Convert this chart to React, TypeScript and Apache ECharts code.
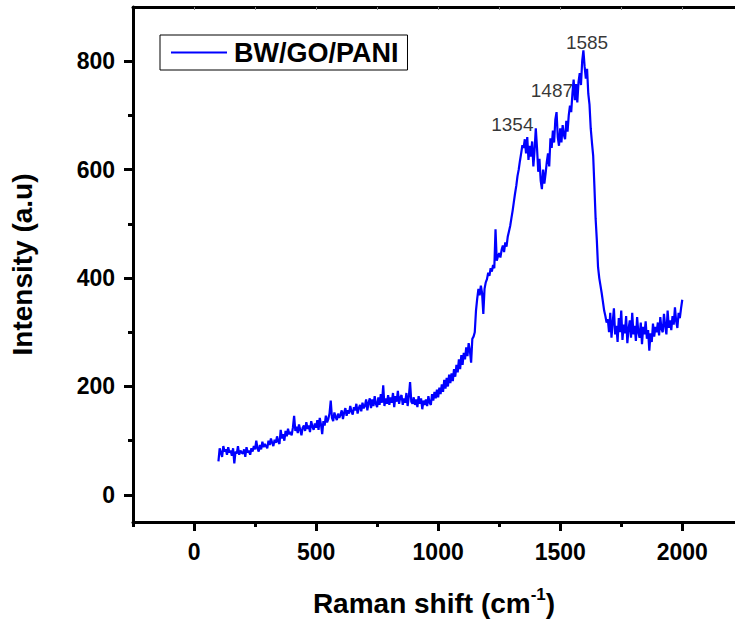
import React, { useEffect, useRef } from "react";
import * as echarts from "echarts";

const seriesName = "BW/GO/PANI";
const waveStart = 100;
const waveStep = 5;
// Intensity (a.u) every 5 cm-1 from 100 to 2000
const intensity = [
  62, 86, 78, 70, 90, 80, 84, 74, 88, 78,
  82, 72, 86, 58, 80, 76, 90, 74, 82, 78,
  76, 84, 70, 88, 78, 82, 74, 86, 80, 90,
  84, 100, 86, 80, 92, 84, 98, 88, 94, 90,
  86, 100, 92, 104, 96, 90, 102, 96, 108, 98,
  94, 120, 104, 112, 100, 118, 108, 122, 112, 116,
  110, 124, 146, 118, 126, 114, 130, 120, 110, 124,
  128, 118, 134, 122, 128, 116, 136, 126, 120, 132,
  124, 138, 120, 142, 130, 112, 136, 128, 146, 134,
  140, 150, 174, 142, 136, 152, 144, 138, 150, 142,
  148, 156, 140, 152, 160, 146, 156, 150, 164, 154,
  148, 162, 156, 168, 150, 160, 166, 154, 170, 160,
  164, 176, 156, 170, 178, 160, 176, 164, 182, 168,
  162, 180, 166, 186, 170, 202, 164, 178, 168, 184,
  166, 180, 170, 188, 162, 182, 172, 192, 168, 180,
  184, 166, 178, 170, 188, 164, 182, 208, 172, 168,
  180, 166, 176, 162, 182, 168, 178, 158, 174, 166,
  176, 164, 182, 170, 166, 186, 174, 190, 178, 194,
  180, 198, 186, 204, 190, 212, 196, 216, 200, 222,
  206, 224, 210, 232, 218, 240, 226, 250, 232, 258,
  240, 262, 250, 272, 256, 280, 266, 244, 288, 292,
  300, 340, 362, 380, 368, 386, 372, 334, 380, 392,
  398, 410, 404, 418, 412, 424, 418, 490, 432, 440,
  446, 438, 452, 460, 448, 466, 458, 476, 486, 496,
  510, 524, 540, 556, 570, 588, 600, 616, 630, 645,
  640, 656, 630, 660, 618, 644, 624, 652, 606, 636,
  676, 640, 596, 620, 580, 564, 600, 574, 592, 614,
  630, 606, 658, 640, 672, 650, 692, 706, 660, 644,
  676, 650, 682, 664, 656, 690, 670, 700, 718, 706,
  740, 766, 728, 758, 724, 762, 778, 756, 800, 820,
  790, 768, 786, 740, 720, 676, 650, 626, 570, 510,
  470, 420, 400, 386, 372, 356, 340, 330, 318, 324,
  300, 336, 290, 318, 344, 296, 312, 282, 326, 300,
  340, 286, 314, 298, 330, 280, 306, 322, 290, 336,
  296, 312, 284, 328, 300, 290, 318, 278, 310, 296,
  320, 288, 304, 266, 298, 282, 316, 292, 310, 300,
  318, 294, 328, 306, 300, 334, 312, 296, 340, 308,
  322, 304, 330, 314, 346, 320, 308, 336, 326, 344,
  360,
];

const peakTexts = ["1354", "1487", "1585"];
const peakTextX = [1304, 1466, 1610];
const peakTextY = [683, 746, 835];

const xMajorTicks = [0, 500, 1000, 1500, 2000];
const xMinorTicks = [-250, 250, 750, 1250, 1750];
const xTopTicks = [0, 250, 500, 750, 1000, 1250, 1500, 1750, 2000];
const yMajorTicks = [0, 200, 400, 600, 800];
const yMinorTicks = [100, 300, 500, 700];

const X_MIN = -250;
const X_MAX = 2216;
const Y_MIN = -50;
const Y_MAX = 900;

const FONT = "'Liberation Sans', Arial, Helvetica, sans-serif";

export default function App() {
  const ref = useRef<HTMLDivElement>(null);

  useEffect(() => {
    if (!ref.current) return;
    const chart = echarts.init(ref.current, undefined, { renderer: "svg" });

    const lineData = intensity.map((v, i) => [waveStart + i * waveStep, v]);
    const peakData = peakTexts.map((t, i) => ({ value: [peakTextX[i], peakTextY[i]], name: t }));

    const baseX = { type: "value", min: X_MIN, max: X_MAX, splitLine: { show: false } } as any;
    const baseY = { type: "value", min: Y_MIN, max: Y_MAX, splitLine: { show: false } } as any;
    const plain = (v: number) => String(v);

    chart.setOption({
      animation: false,
      backgroundColor: "#ffffff",
      grid: { left: 132, right: 0, top: 7, bottom: 98, containLabel: false },
      legend: {
        data: [{ name: seriesName, icon: "rect" }],
        left: 160,
        top: 35,
        orient: "horizontal",
        padding: [4, 9, 4, 11],
        itemWidth: 56,
        itemHeight: 2,
        borderColor: "#000",
        borderWidth: 1,
        borderRadius: 0,
        itemStyle: { color: "#0000ff" },
        textStyle: { fontFamily: FONT, fontWeight: "bold", fontSize: 27, color: "#000", padding: [0, 0, 0, 2] },
      },
      xAxis: [
        {
          ...baseX,
          position: "bottom",
          name: "{a|Raman shift (cm}{s|-1}{a|)}",
          nameLocation: "middle",
          nameGap: 64,
          nameTextStyle: {
            rich: {
              a: { fontFamily: FONT, fontWeight: "bold", fontSize: 28, color: "#000", lineHeight: 34 },
              s: { fontFamily: FONT, fontWeight: "bold", fontSize: 17, color: "#000", lineHeight: 34, verticalAlign: "top", padding: [0, 0, 12, 0] },
            },
          },
          axisLine: { show: true, onZero: false, lineStyle: { color: "#000", width: 3 } },
          axisTick: { show: true, inside: false, length: 9, customValues: xMajorTicks, lineStyle: { color: "#000", width: 3 } },
          axisLabel: { show: true, customValues: xMajorTicks, formatter: plain, margin: 18, fontFamily: FONT, fontWeight: "bold", fontSize: 23, color: "#000" },
        },
        {
          ...baseX,
          position: "bottom",
          axisLine: { show: false, onZero: false },
          axisTick: { show: true, inside: false, length: 5, customValues: xMinorTicks, lineStyle: { color: "#000", width: 3 } },
          axisLabel: { show: false },
        },
        {
          ...baseX,
          position: "top",
          axisLine: { show: true, onZero: false, lineStyle: { color: "#000", width: 3 } },
          axisTick: { show: true, inside: true, length: 3, customValues: xTopTicks, lineStyle: { color: "#888", width: 1 } },
          axisLabel: { show: false },
        },
      ],
      yAxis: [
        {
          ...baseY,
          position: "left",
          name: "Intensity (a.u)",
          nameLocation: "middle",
          nameGap: 97,
          nameTextStyle: { fontFamily: FONT, fontWeight: "bold", fontSize: 28, color: "#000" },
          axisLine: { show: true, onZero: false, lineStyle: { color: "#000", width: 3 } },
          axisTick: { show: true, inside: false, length: 9, customValues: yMajorTicks, lineStyle: { color: "#000", width: 3 } },
          axisLabel: { show: true, customValues: yMajorTicks, formatter: plain, margin: 18, fontFamily: FONT, fontWeight: "bold", fontSize: 23, color: "#000" },
        },
        {
          ...baseY,
          position: "left",
          axisLine: { show: false, onZero: false },
          axisTick: { show: true, inside: false, length: 5, customValues: yMinorTicks, lineStyle: { color: "#000", width: 3 } },
          axisLabel: { show: false },
        },
      ],
      series: [
        {
          name: seriesName,
          type: "line",
          xAxisIndex: 0,
          yAxisIndex: 0,
          data: lineData,
          showSymbol: false,
          symbol: "none",
          lineStyle: { color: "#0000ff", width: 2.2 },
          itemStyle: { color: "#0000ff" },
          z: 3,
        },
        {
          name: "peaks",
          type: "scatter",
          xAxisIndex: 0,
          yAxisIndex: 0,
          data: peakData,
          symbolSize: 0,
          silent: true,
          label: {
            show: true,
            position: "inside",
            formatter: (p: any) => p.name,
            fontFamily: FONT,
            fontSize: 19,
            color: "#000",
            textBorderWidth: 0,
          },
          z: 4,
        },
      ],
    });

    return () => chart.dispose();
  }, []);

  return (
    <div
      ref={ref}
      style={{ position: "fixed", left: 0, top: 0, width: 735, height: 622, background: "#fff" }}
    />
  );
}
